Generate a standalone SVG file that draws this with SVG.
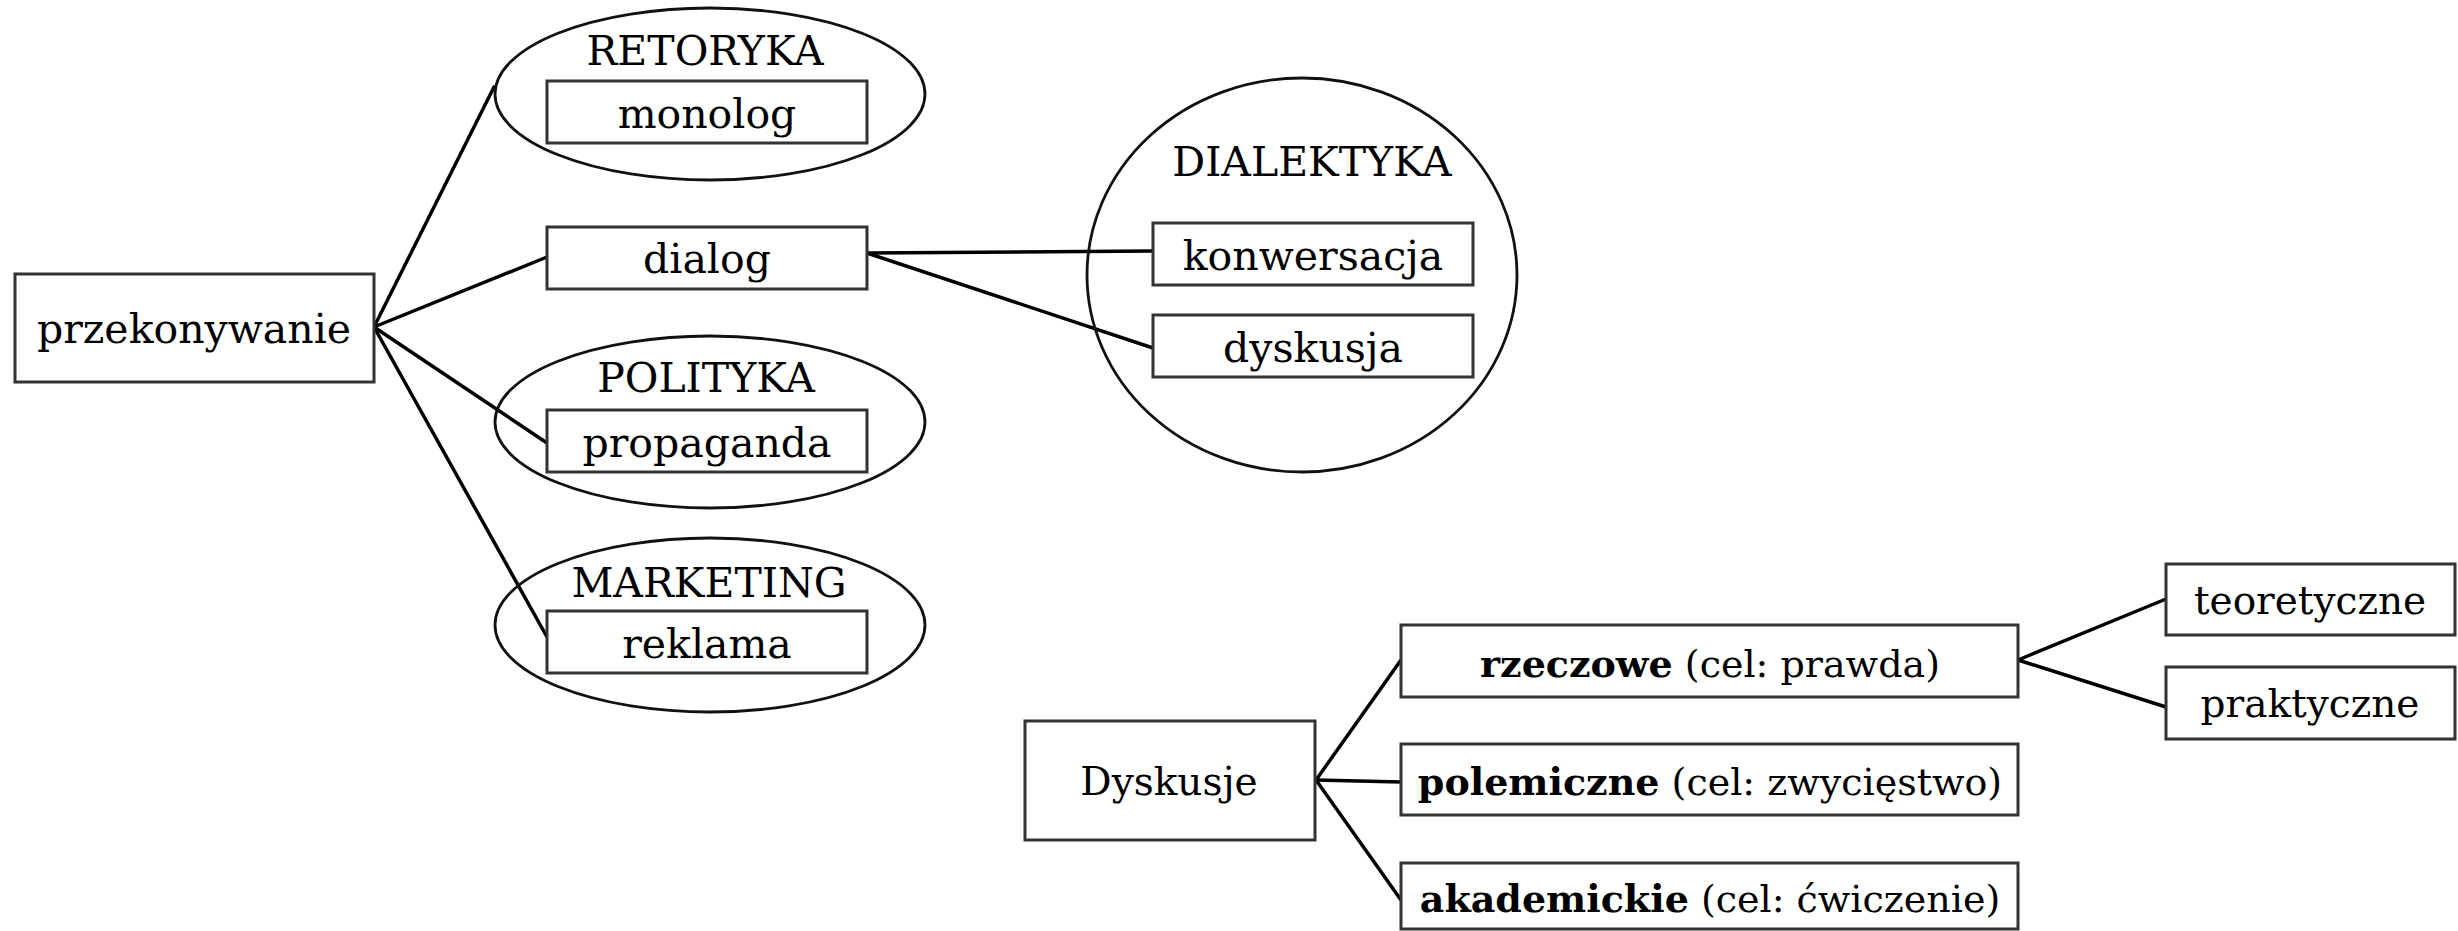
<svg xmlns="http://www.w3.org/2000/svg" width="2458" height="931" viewBox="0 0 2458 931">
<style>
.bx{fill:#fff;stroke:#333;stroke-width:3}
.el{fill:none;stroke:#111;stroke-width:2.8}
.cn{stroke:#000;stroke-width:3.5;fill:none;stroke-linecap:round}
text{font-family:"DejaVu Serif","Liberation Serif",serif;font-size:41px;fill:#000;text-anchor:middle}
.s{font-size:39px}
.m{font-size:38px}
.b{font-weight:bold}
</style>
<rect width="2458" height="931" fill="#fff"/>
<g id="connectors">
<line class="cn" x1="374" y1="327" x2="494" y2="87"/>
<line class="cn" x1="374" y1="327" x2="547" y2="257"/>
<line class="cn" x1="374" y1="327" x2="547" y2="443"/>
<line class="cn" x1="374" y1="327" x2="547" y2="637"/>
<line class="cn" x1="867" y1="253" x2="1153" y2="251"/>
<line class="cn" x1="867" y1="253" x2="1153" y2="348"/>
<line class="cn" x1="1316" y1="780" x2="1401" y2="660"/>
<line class="cn" x1="1316" y1="780" x2="1401" y2="782"/>
<line class="cn" x1="1316" y1="780" x2="1401" y2="900"/>
<line class="cn" x1="2018" y1="660" x2="2166" y2="599"/>
<line class="cn" x1="2018" y1="660" x2="2166" y2="707"/>
</g>
<g id="przekonywanie">
<rect class="bx" x="15" y="274" width="359" height="108"/>
<text x="194" y="343">przekonywanie</text>
</g>
<g id="retoryka">
<ellipse class="el" cx="710" cy="94" rx="215" ry="86"/>
<text x="705" y="65">RETORYKA</text>
</g>
<g id="monolog">
<rect class="bx" x="547" y="81" width="320" height="62"/>
<text x="707" y="128">monolog</text>
</g>
<g id="dialog">
<rect class="bx" x="547" y="227" width="320" height="62"/>
<text x="707" y="273">dialog</text>
</g>
<g id="polityka">
<ellipse class="el" cx="710" cy="422" rx="215" ry="86"/>
<text x="706" y="392">POLITYKA</text>
</g>
<g id="propaganda">
<rect class="bx" x="547" y="410" width="320" height="62"/>
<text x="707" y="457">propaganda</text>
</g>
<g id="marketing">
<ellipse class="el" cx="710" cy="625" rx="215" ry="87"/>
<text x="709" y="597">MARKETING</text>
</g>
<g id="reklama">
<rect class="bx" x="547" y="611" width="320" height="62"/>
<text x="707" y="658">reklama</text>
</g>
<g id="dialektyka">
<ellipse class="el" cx="1302" cy="275" rx="215" ry="197"/>
<text x="1312" y="176">DIALEKTYKA</text>
</g>
<g id="konwersacja">
<rect class="bx" x="1153" y="223" width="320" height="62"/>
<text x="1313" y="270">konwersacja</text>
</g>
<g id="dyskusja">
<rect class="bx" x="1153" y="315" width="320" height="62"/>
<text x="1313" y="362">dyskusja</text>
</g>
<g id="dyskusje">
<rect class="bx" x="1025" y="721" width="290" height="119"/>
<text class="s" x="1169" y="795">Dyskusje</text>
</g>
<g id="rzeczowe">
<rect class="bx" x="1401" y="625" width="617" height="72"/>
<text class="m" x="1710" y="677"><tspan class="b">rzeczowe</tspan> (cel: prawda)</text>
</g>
<g id="polemiczne">
<rect class="bx" x="1401" y="744" width="617" height="71"/>
<text class="m" x="1710" y="795"><tspan class="b">polemiczne</tspan> (cel: zwycięstwo)</text>
</g>
<g id="akademickie">
<rect class="bx" x="1401" y="863" width="617" height="66"/>
<text class="m" x="1710" y="912"><tspan class="b">akademickie</tspan> (cel: ćwiczenie)</text>
</g>
<g id="teoretyczne">
<rect class="bx" x="2166" y="564" width="289" height="71"/>
<text class="s" x="2310" y="614">teoretyczne</text>
</g>
<g id="praktyczne">
<rect class="bx" x="2166" y="667" width="289" height="72"/>
<text class="s" x="2310" y="717">praktyczne</text>
</g>
</svg>
